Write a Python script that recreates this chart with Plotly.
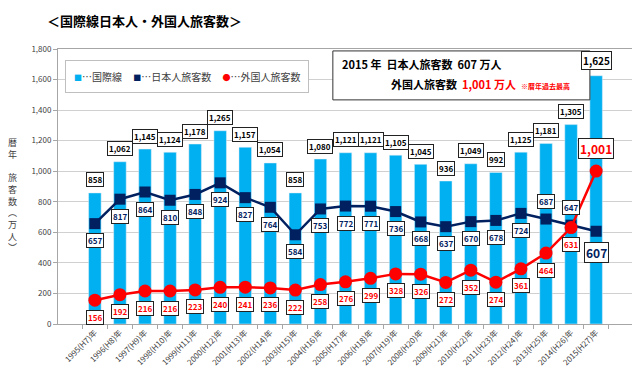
import plotly.graph_objects as go

categories = ["1995(H7)年", "1996(H8)年", "1997(H9)年", "1998(H10)年", "1999(H11)年",
              "2000(H12)年", "2001(H13)年", "2002(H14)年", "2003(H15)年", "2004(H16)年",
              "2005(H17)年", "2006(H18)年", "2007(H19)年", "2008(H20)年", "2009(H21)年",
              "2010(H22)年", "2011(H23)年", "2012(H24)年", "2013(H25)年", "2014(H26)年",
              "2015(H27)年"]
international = [858, 1062, 1145, 1124, 1178, 1265, 1157, 1054, 858, 1080, 1121,
                 1121, 1105, 1045, 936, 1049, 992, 1125, 1181, 1305, 1625]
japanese = [657, 817, 864, 810, 848, 924, 827, 764, 584, 753, 772, 771, 736, 668,
            637, 670, 678, 724, 687, 647, 607]
foreign = [156, 192, 216, 216, 223, 240, 241, 236, 222, 258, 276, 299, 328, 326,
           272, 352, 274, 361, 464, 631, 1001]
y_ticks = [0, 200, 400, 600, 800, 1000, 1200, 1400, 1600, 1800]
series_names = ["…国際線", "…日本人旅客数", "…外国人旅客数"]

BLUE = "#00B0F0"
NAVY = "#002060"
RED = "#FF0000"
FONT = "Noto Sans CJK JP"
NB = "\u00a0"

fig = go.Figure()
fig.add_trace(go.Bar(x=categories, y=international, marker_color=BLUE,
                     name=series_names[0], showlegend=False, hoverinfo="skip"))
fig.add_trace(go.Scatter(x=categories, y=japanese, mode="lines+markers",
                         name=series_names[1],
                         line=dict(color=NAVY, width=2.5),
                         marker=dict(symbol="square", size=11, color=NAVY),
                         showlegend=False))
fig.add_trace(go.Scatter(x=categories, y=foreign, mode="lines+markers",
                         name=series_names[2],
                         line=dict(color=RED, width=2.5),
                         marker=dict(symbol="circle", size=13, color=RED),
                         showlegend=False))

ann = []
n = len(categories)
for i, c in enumerate(categories):
    last = i == n - 1
    ann.append(dict(x=c, y=international[i], text=f"<b>{international[i]:,}</b>",
                    showarrow=False, yshift=15 if last else 13,
                    font=dict(size=10 if last else 8, color="#000000", family=FONT),
                    bgcolor="white", bordercolor="#222222", borderwidth=1, borderpad=1))
    if last:
        js = -21
    elif categories[i].startswith("2013") or categories[i].startswith("2014"):
        js = 18
    else:
        js = -17
    ann.append(dict(x=c, y=japanese[i], text=f"<b>{japanese[i]:,}</b>",
                    showarrow=False, yshift=js,
                    font=dict(size=12 if last else 8, color=NAVY, family=FONT),
                    bgcolor="white", bordercolor="#222222", borderwidth=1, borderpad=1))
    fs = 23 if last else -17
    ann.append(dict(x=c, y=foreign[i], text=f"<b>{foreign[i]:,}</b>",
                    showarrow=False, yshift=fs,
                    font=dict(size=12 if last else 8, color=RED, family=FONT),
                    bgcolor="white", bordercolor="#222222", borderwidth=1, borderpad=1))

# title
ann.append(dict(xref="paper", yref="paper", x=-0.022, y=1.105, xanchor="left", yanchor="middle",
                text="<b>＜国際線日本人・外国人旅客数＞</b>", showarrow=False,
                font=dict(size=13, color="#000000", family=FONT)))
# vertical y-axis title
ann.append(dict(xref="paper", yref="paper", x=-0.08, y=0.47, xanchor="center", yanchor="middle",
                text="暦<br>年<br><br>旅<br>客<br>数<br>︵<br>万<br>人<br>︶", showarrow=False,
                font=dict(size=9, color="#404040", family=FONT)))
# legend box (text-based)
sym = "<span style='font-size:8px;color:{c}'>{s}</span>"
legend_text = (sym.format(c=BLUE, s="■") + series_names[0] + NB * 5 +
               sym.format(c=NAVY, s="■") + series_names[1] + NB * 5 +
               sym.format(c=RED, s="●") + series_names[2])
ann.append(dict(xref="paper", yref="paper", x=0.012, y=0.9, xanchor="left", yanchor="middle",
                text=legend_text, showarrow=False,
                font=dict(size=10, color="#404040", family=FONT),
                bgcolor="white", bordercolor="#BFBFBF", borderwidth=1, borderpad=8))
# info box texts
ann.append(dict(xref="paper", yref="paper", x=0.49, y=0.945, xanchor="left", yanchor="middle",
                text=f"<b>2015 年{NB*2}日本人旅客数{NB*2}607 万人</b>", showarrow=False,
                font=dict(size=11, color="#000000", family=FONT)))
ann.append(dict(xref="paper", yref="paper", x=0.575, y=0.872, xanchor="left", yanchor="middle",
                text=f"<b>外国人旅客数{NB*2}<span style='color:#FF0000'>1,001 万人</span></b>"
                     f"{NB*2}<b><span style='color:#FF0000;font-size:7px'>※暦年過去最高</span></b>",
                showarrow=False, font=dict(size=11, color="#000000", family=FONT)))

fig.update_layout(
    width=640, height=380,
    margin=dict(l=50, r=15, t=41, b=64),
    paper_bgcolor="white", plot_bgcolor="white",
    font=dict(family=FONT, size=9, color="#404040"),
    bargap=0.5,
    showlegend=False,
    annotations=ann,
    shapes=[dict(type="rect", xref="paper", yref="paper", x0=0.478, x1=0.925,
                 y0=0.815, y1=0.993, line=dict(color="#333333", width=1),
                 fillcolor="white", layer="above")],
    xaxis=dict(tickangle=-45, tickfont=dict(size=8, color="#404040"),
               showline=True, linecolor="#A6A6A6", mirror=True,
               ticks="outside", ticklen=4, tickcolor="#A6A6A6", tickson="boundaries"),
    yaxis=dict(range=[0, 1800], tickvals=y_ticks, tickformat=",",
               tickfont=dict(size=8, color="#404040"),
               showgrid=True, gridcolor="#D0D0D0", gridwidth=1,
               showline=True, linecolor="#A6A6A6", mirror=True,
               ticks="outside", ticklen=4, tickcolor="#A6A6A6", zeroline=False),
)
fig.write_html("out.html")
